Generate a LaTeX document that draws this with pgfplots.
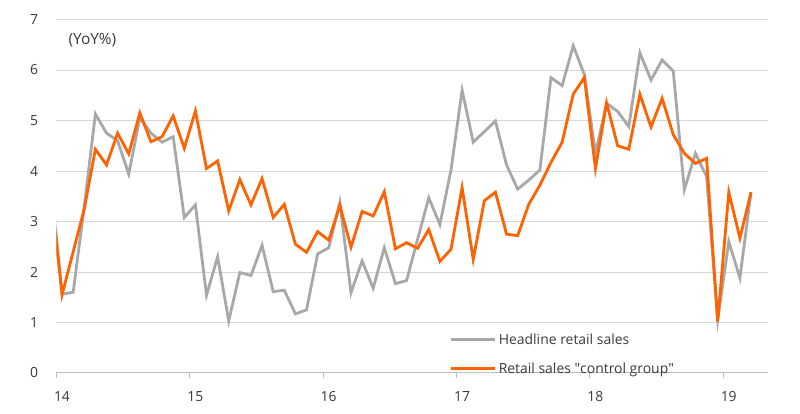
\documentclass[border=0pt]{standalone}
\usepackage{pgfplots}
\pgfplotsset{compat=1.18}
\usepackage{pgfplotstable}
\usepackage{fontspec}
\setmainfont{Open Sans}
\definecolor{ingorange}{HTML}{FF6200}
\definecolor{linegray}{HTML}{A8A8A8}
\definecolor{gridgray}{HTML}{D6D6D6}
\definecolor{axgray}{HTML}{BDBDBD}
\definecolor{txt}{HTML}{3A3A3A}

\pgfplotstableread{
m    hd    cg
-0.5 3.80  3.60
0.5  1.56  1.55
1.5  1.60  2.40
2.5  3.30  3.25
3.5  5.13  4.43
4.5  4.75  4.12
5.5  4.60  4.75
6.5  3.94  4.34
7.5  5.05  5.15
8.5  4.75  4.58
9.5  4.57  4.68
10.5 4.68  5.09
11.5 3.08  4.45
12.5 3.33  5.19
13.5 1.54  4.05
14.5 2.30  4.20
15.5 1.03  3.21
16.5 1.99  3.83
17.5 1.93  3.33
18.5 2.53  3.85
19.5 1.61  3.08
20.5 1.64  3.34
21.5 1.17  2.55
22.5 1.25  2.39
23.5 2.36  2.80
24.5 2.48  2.63
25.5 3.38  3.32
26.5 1.59  2.49
27.5 2.22  3.20
28.5 1.68  3.11
29.5 2.48  3.59
30.5 1.77  2.46
31.5 1.83  2.58
32.5 2.65  2.47
33.5 3.47  2.84
34.5 2.94  2.21
35.5 4.02  2.45
36.5 5.60  3.67
37.5 4.57  2.25
38.5 4.78  3.41
39.5 4.99  3.58
40.5 4.12  2.75
41.5 3.64  2.72
42.5 3.82  3.34
43.5 4.02  3.72
44.5 5.85  4.17
45.5 5.69  4.57
46.5 6.48  5.52
47.5 5.91  5.85
48.5 4.35  4.05
49.5 5.34  5.35
50.5 5.18  4.50
51.5 4.88  4.43
52.5 6.34  5.52
53.5 5.80  4.87
54.5 6.20  5.44
55.5 5.98  4.72
56.5 3.63  4.35
57.5 4.35  4.15
58.5 3.89  4.25
59.5 1.05  1.02
60.5 2.60  3.58
61.5 1.88  2.67
62.5 3.58  3.58
}\data

\begin{document}
\begin{tikzpicture}
\begin{axis}[
  scale only axis,
  width=711.2bp, height=353.5bp,
  xmin=0, xmax=64, ymin=0, ymax=7,
  axis x line*=bottom,
  axis y line*=left,
  y axis line style={draw=none},
  x axis line style={axgray, line width=1bp, -},
  xtick={0,12,24,36,48,60},
  xticklabels={14,15,16,17,18,19},
  tick align=outside,
  major tick length=5bp,
  xtick style={axgray, line width=1bp},
  xticklabel style={anchor=north west, xshift=-6bp, yshift=-10bp},
  ytick={0,1,2,3,4,5,6,7},
  ymajorgrids,
  grid style={gridgray, line width=1bp},
  yticklabel style={anchor=east, xshift=-10bp},
  ytick style={draw=none},
  tick label style={font=\fontsize{14}{16}\selectfont, text=txt},
  /pgf/number format/assume math mode=true,
  legend style={draw=none, fill=none, at={(rel axis cs:0.553,0)}, anchor=south west,
    yshift=-4bp,
    font=\fontsize{14}{16}\selectfont, text=txt, inner sep=0pt,
    row sep=13bp},
  legend cell align=left,
  legend image code/.code={\draw[#1, line width=2.8bp] (0bp,0bp) -- (44bp,0bp);},
]
\addplot[linegray, line width=2.8bp, line join=miter] table[x=m, y=hd] {\data};
\addlegendentry{Headline retail sales}
\addplot[ingorange, line width=2.8bp, line join=miter] table[x=m, y=cg] {\data};
\addlegendentry{Retail sales \textquotedbl control group\textquotedbl}
\node[anchor=west, font=\fontsize{15.5}{18}\selectfont, text=txt] at (rel axis cs:0.012,0.942) {(YoY\%)};
\end{axis}
\pgfresetboundingbox
\path[use as bounding box] (current axis.south west) ++(-56.5bp,-41bp) rectangle ++(800bp,414bp);
\end{tikzpicture}
\end{document}
